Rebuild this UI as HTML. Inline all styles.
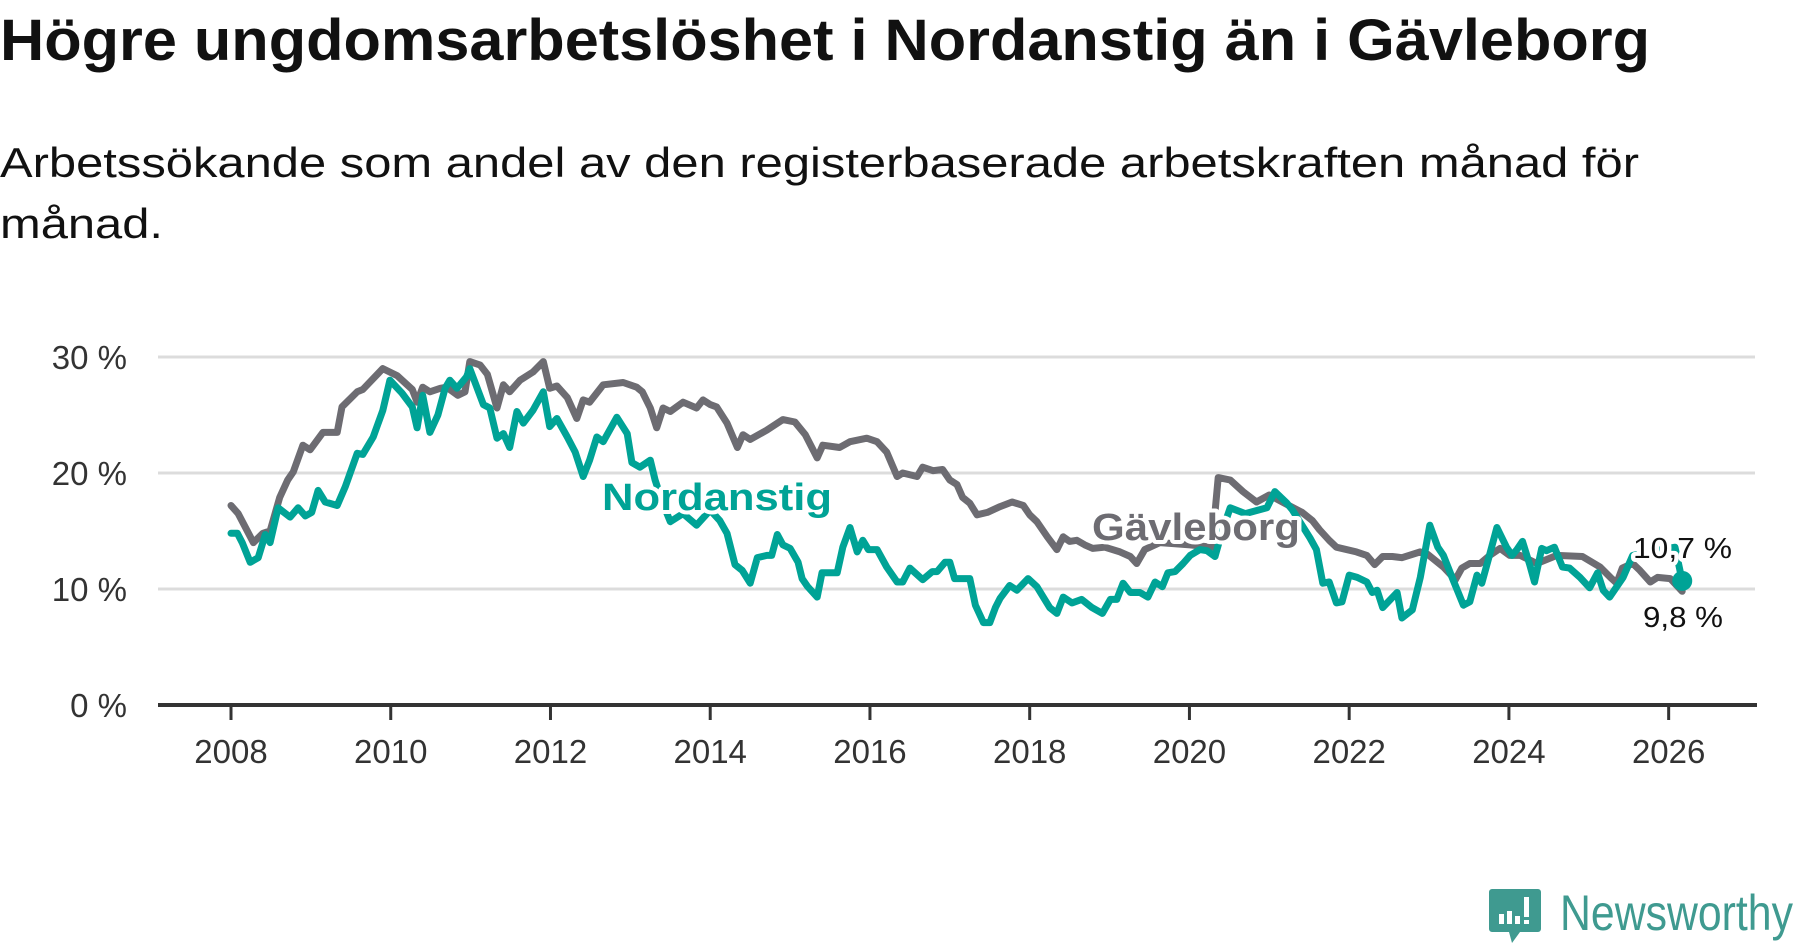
<!DOCTYPE html>
<html><head><meta charset="utf-8">
<style>
html,body{margin:0;padding:0;background:#fff;}
svg{display:block;font-family:"Liberation Sans",sans-serif;}
</style></head>
<body>
<svg id="chart" width="1800" height="948" viewBox="0 0 1800 948" xmlns="http://www.w3.org/2000/svg">
<text x="0" y="60" font-size="58" font-weight="bold" fill="#111" textLength="1650" lengthAdjust="spacingAndGlyphs">Högre ungdomsarbetslöshet i Nordanstig än i Gävleborg</text>
<text x="0" y="177" font-size="42" fill="#111" textLength="1639" lengthAdjust="spacingAndGlyphs">Arbetssökande som andel av den registerbaserade arbetskraften månad för</text>
<text x="0" y="238" font-size="42" fill="#111" textLength="163" lengthAdjust="spacingAndGlyphs">månad.</text>
<g id="grid"></g>
<g id="series"></g>
<g id="labels"></g>
<g>
  <path d="M1492 889 h46 a3 3 0 0 1 3 3 v37 a3 3 0 0 1 -3 3 h-18 l-8 11 l-3 -11 h-17 a3 3 0 0 1 -3 -3 v-37 a3 3 0 0 1 3 -3z" fill="#3f9a90"/>
  <rect x="1499" y="914" width="5" height="10" fill="#fff"/>
  <rect x="1507" y="911" width="5" height="13" fill="#fff"/>
  <rect x="1515" y="916" width="5" height="8" fill="#fff"/>
  <rect x="1524" y="897" width="5" height="20" fill="#fff"/>
  <rect x="1524" y="920" width="5" height="4" fill="#fff"/>
  <text x="1560" y="930" font-size="50" fill="#3f9a90" textLength="233" lengthAdjust="spacingAndGlyphs">Newsworthy</text>
</g>
</svg>
<script>
const yTicks = [0, 10, 20, 30];
const yTickLabels = ["0 %", "10 %", "20 %", "30 %"];
const xTicks = [2008, 2010, 2012, 2014, 2016, 2018, 2020, 2022, 2024, 2026];
const gavleDates = [2008.0,2008.09,2008.28,2008.40,2008.49,2008.61,2008.71,2008.78,2008.90,2008.99,2009.15,2009.33,2009.39,2009.58,2009.65,2009.90,2010.08,2010.27,2010.33,2010.40,2010.49,2010.62,2010.70,2010.84,2010.93,2010.99,2011.12,2011.21,2011.33,2011.41,2011.49,2011.62,2011.78,2011.91,2011.99,2012.08,2012.21,2012.33,2012.41,2012.49,2012.66,2012.91,2013.08,2013.15,2013.25,2013.33,2013.41,2013.50,2013.66,2013.83,2013.91,2014.00,2014.08,2014.21,2014.34,2014.41,2014.50,2014.71,2014.91,2015.06,2015.19,2015.34,2015.41,2015.62,2015.75,2015.96,2016.09,2016.21,2016.34,2016.41,2016.59,2016.66,2016.79,2016.91,2017.00,2017.09,2017.16,2017.25,2017.34,2017.47,2017.63,2017.78,2017.92,2018.00,2018.09,2018.22,2018.34,2018.42,2018.50,2018.59,2018.69,2018.79,2018.94,2019.13,2019.26,2019.34,2019.44,2019.63,2020.01,2020.28,2020.36,2020.51,2020.67,2020.84,2021.00,2021.19,2021.41,2021.54,2021.63,2021.75,2021.84,2022.09,2022.22,2022.32,2022.42,2022.54,2022.66,2022.89,2022.98,2023.18,2023.33,2023.41,2023.51,2023.64,2023.76,2023.89,2024.01,2024.14,2024.35,2024.60,2024.92,2025.14,2025.27,2025.35,2025.42,2025.55,2025.64,2025.77,2025.86,2026.02,2026.17];
const gavleValues = [17.2,16.5,14.0,14.8,15.0,17.9,19.4,20.1,22.4,22.0,23.5,23.5,25.7,27.0,27.2,29.0,28.4,27.2,26.1,27.4,27.0,27.3,27.4,26.7,27.0,29.6,29.3,28.5,25.6,27.6,27.0,28.0,28.7,29.6,27.3,27.5,26.5,24.7,26.3,26.1,27.6,27.8,27.4,27.0,25.6,23.9,25.6,25.3,26.1,25.6,26.3,25.9,25.7,24.3,22.2,23.3,22.9,23.7,24.6,24.4,23.3,21.3,22.4,22.2,22.7,23.0,22.7,21.8,19.7,20.0,19.7,20.5,20.2,20.3,19.4,19.0,17.9,17.4,16.4,16.6,17.1,17.5,17.2,16.4,15.8,14.5,13.4,14.5,14.1,14.2,13.8,13.5,13.6,13.2,12.8,12.2,13.4,14.0,13.8,13.6,19.6,19.4,18.4,17.5,18.1,17.4,16.6,15.9,15.1,14.2,13.6,13.2,12.9,12.1,12.8,12.8,12.7,13.2,13.0,11.9,10.8,11.8,12.2,12.2,12.9,13.5,12.9,12.9,12.2,12.9,12.8,11.9,11.0,10.5,11.8,12.2,11.6,10.6,11.0,10.9,9.8];
const nordDates = [2008.0,2008.08,2008.14,2008.24,2008.34,2008.43,2008.49,2008.59,2008.74,2008.84,2008.93,2009.01,2009.09,2009.18,2009.33,2009.43,2009.58,2009.65,2009.78,2009.90,2009.99,2010.14,2010.27,2010.33,2010.40,2010.49,2010.59,2010.68,2010.74,2010.83,2010.95,2010.99,2011.16,2011.24,2011.33,2011.41,2011.49,2011.58,2011.66,2011.78,2011.91,2011.99,2012.08,2012.21,2012.31,2012.41,2012.49,2012.58,2012.66,2012.83,2012.96,2013.02,2013.12,2013.25,2013.31,2013.40,2013.50,2013.66,2013.83,2014.00,2014.12,2014.21,2014.31,2014.40,2014.50,2014.59,2014.71,2014.77,2014.84,2014.91,2015.00,2015.10,2015.15,2015.22,2015.34,2015.40,2015.59,2015.66,2015.75,2015.84,2015.91,2015.98,2016.09,2016.21,2016.34,2016.41,2016.50,2016.66,2016.78,2016.84,2016.94,2017.00,2017.06,2017.25,2017.32,2017.42,2017.50,2017.57,2017.63,2017.75,2017.84,2017.98,2018.09,2018.25,2018.34,2018.42,2018.53,2018.65,2018.78,2018.91,2019.01,2019.09,2019.17,2019.26,2019.38,2019.48,2019.57,2019.66,2019.73,2019.82,2019.92,2020.01,2020.13,2020.22,2020.32,2020.41,2020.51,2020.70,2020.97,2021.07,2021.22,2021.29,2021.51,2021.59,2021.67,2021.75,2021.84,2021.91,2022.00,2022.10,2022.22,2022.29,2022.35,2022.42,2022.60,2022.66,2022.79,2022.89,2023.01,2023.11,2023.18,2023.30,2023.43,2023.51,2023.60,2023.66,2023.74,2023.85,2023.97,2024.04,2024.10,2024.17,2024.26,2024.32,2024.41,2024.47,2024.57,2024.67,2024.76,2024.89,2025.01,2025.11,2025.18,2025.26,2025.43,2025.55,2025.83,2026.08,2026.17];
const nordValues = [14.8,14.8,14.0,12.3,12.7,14.7,14.0,17.0,16.2,17.0,16.3,16.6,18.5,17.5,17.2,18.8,21.7,21.6,23.1,25.4,28.0,26.9,25.7,23.9,26.7,23.5,25.0,27.3,28.0,27.3,28.3,29.0,25.9,25.6,23.0,23.4,22.2,25.3,24.3,25.4,27.0,24.0,24.7,23.1,21.8,19.7,21.1,23.1,22.7,24.8,23.4,20.9,20.5,21.1,19.4,17.5,15.8,16.5,15.5,16.8,15.9,14.8,12.1,11.6,10.5,12.7,12.9,12.9,14.7,13.8,13.5,12.3,10.9,10.2,9.3,11.4,11.4,13.6,15.3,13.2,14.2,13.4,13.4,11.9,10.6,10.6,11.8,10.8,11.5,11.5,12.3,12.3,10.9,10.9,8.6,7.1,7.1,8.4,9.2,10.3,9.9,10.9,10.2,8.4,7.9,9.3,8.8,9.1,8.4,7.9,9.1,9.1,10.5,9.7,9.7,9.3,10.6,10.2,11.4,11.5,12.2,12.9,13.4,13.3,12.8,15.0,17.0,16.5,17.0,18.4,17.4,16.8,14.4,13.4,10.5,10.6,8.8,8.9,11.2,11.0,10.6,9.7,9.9,8.4,9.7,7.5,8.2,11.0,15.5,13.6,12.9,10.8,8.6,8.9,11.2,10.5,12.5,15.3,13.6,12.9,13.4,14.1,12.1,10.6,13.5,13.3,13.6,11.9,11.8,11.0,10.1,11.4,9.9,9.3,11.0,12.9,13.3,13.6,10.7];
const lastLabels = ["10,7 %", "9,8 %"];

const NS = "http://www.w3.org/2000/svg";
function xScale(yr){ return 231 + (yr - 2008) * 79.87; }
function yScale(v){ return 705 - v * 11.6; }
function mk(tag, attrs, parent){ const e = document.createElementNS(NS, tag); for (const k in attrs) e.setAttribute(k, attrs[k]); parent.appendChild(e); return e; }

const grid = document.getElementById('grid');
yTicks.forEach((t, i) => {
  if (t !== 0) {
    const gl = mk('line', {x1:158, x2:1755, y1:yScale(t), y2:yScale(t), stroke:'#dcdcdc', 'stroke-width':3}, grid);
    
    
  }
  const tl = mk('text', {x:127, y:yScale(t)+12, 'text-anchor':'end', 'font-size':33, fill:'#333'}, grid);
  tl.textContent = yTickLabels[i];
  
  
});
const axis = mk('line', {x1:158, x2:1757, y1:705, y2:705, stroke:'#333', 'stroke-width':4}, grid);


xTicks.forEach(t => {
  const tk = mk('line', {x1:xScale(t), x2:xScale(t), y1:705, y2:720, stroke:'#333', 'stroke-width':3}, grid);
  
  
  const tl = mk('text', {x:xScale(t), y:763, 'text-anchor':'middle', 'font-size':33, fill:'#333'}, grid);
  tl.textContent = t;
  
  
});

const series = document.getElementById('series');
function pathFor(ds, vs){ return ds.map((d, i) => (i ? 'L' : 'M') + xScale(d).toFixed(1) + ' ' + yScale(vs[i]).toFixed(1)).join(' '); }
const gl = mk('path', {d:pathFor(gavleDates, gavleValues), fill:'none', stroke:'#6d6c72', 'stroke-width':7, 'stroke-linejoin':'round', 'stroke-linecap':'round'}, series);


const nl = mk('path', {d:pathFor(nordDates, nordValues), fill:'none', stroke:'#00a396', 'stroke-width':7, 'stroke-linejoin':'round', 'stroke-linecap':'round'}, series);


const ni = nordDates.length - 1;
const dot = mk('circle', {cx:xScale(nordDates[ni]), cy:yScale(nordValues[ni]), r:10, fill:'#00a396'}, series);



const labels = document.getElementById('labels');
function halo(txt, attrs){
  const a = Object.assign({}, attrs, {stroke:'#fff', 'stroke-width':8, 'stroke-linejoin':'round', fill:'#fff'});
  const h = mk('text', a, labels); h.textContent = txt;
  
  
  const t = mk('text', attrs, labels); t.textContent = txt;
  return t;
}
const n = halo('Nordanstig', {x:602, y:510, 'font-size':38, 'font-weight':'bold', fill:'#00a396', textLength:230, lengthAdjust:'spacingAndGlyphs'});


const g = halo('Gävleborg', {x:1092, y:540, 'font-size':38, 'font-weight':'bold', fill:'#6d6c72', textLength:208, lengthAdjust:'spacingAndGlyphs'});


const l1 = halo(lastLabels[0], {x:1633, y:558, 'font-size':29, fill:'#111', textLength:99, lengthAdjust:'spacingAndGlyphs'});


const l2 = halo(lastLabels[1], {x:1643, y:627, 'font-size':29, fill:'#111', textLength:80, lengthAdjust:'spacingAndGlyphs'});


</script>
</body></html>
